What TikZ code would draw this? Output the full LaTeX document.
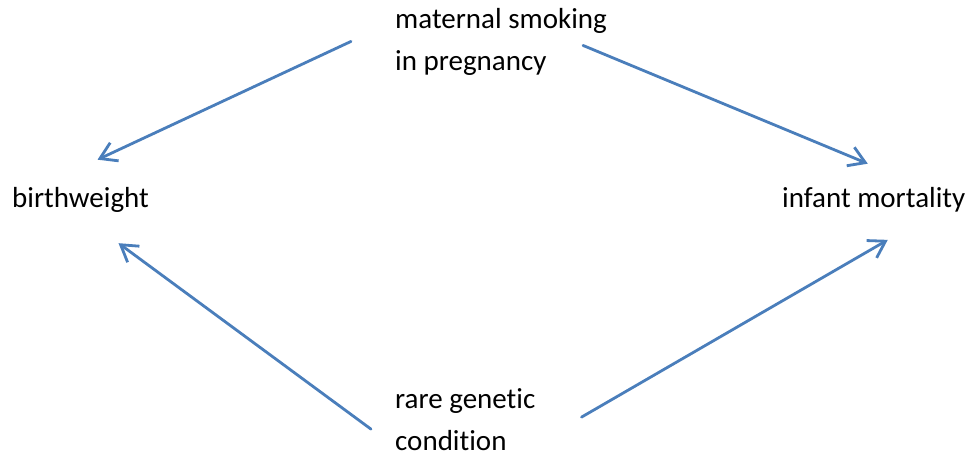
\documentclass[tikz,border=0pt]{standalone}
\usepackage{fontspec}
\setmainfont{Carlito}[Ligatures=NoCommon]
\usepackage{tikz}
\usetikzlibrary{arrows.meta}
\definecolor{linkblue}{RGB}{74,126,187}

\begin{document}
\begin{tikzpicture}[x=1pt, y=-1pt, font=\fontsize{29}{42}\selectfont]
\tikzset{var/.style={inner sep=0pt, anchor=base west, align=left},
  link/.style={-{Straight Barb[length=16pt,width=20pt]}, line width=2.8pt, linkblue, line cap=round}}
\useasboundingbox (0,0) rectangle (968,455);
\node[var] (smoking) at (395,70) {maternal smoking\\in pregnancy};
\node[var] (birth) at (12,207) {birthweight};
\node[var] (mortality) at (782,207) {infant mortality};
\node[var] (genetic) at (395,450) {rare genetic\\condition};

\draw [link] ([xshift=-44pt]smoking.west) -- ([xshift=17pt,yshift=27pt]birth.north);
\draw [link] ([xshift=-24pt,yshift=-4pt]smoking.east) -- ([xshift=-6pt,yshift=23pt]mortality.north);
\draw [link] ([xshift=-24pt,yshift=-10pt]genetic.west) -- ([xshift=38pt,yshift=-31pt]birth.south);
\draw [link] ([xshift=46pt,yshift=2pt]genetic.east) -- ([xshift=14pt,yshift=-28pt]mortality.south);
\end{tikzpicture}
\end{document}
